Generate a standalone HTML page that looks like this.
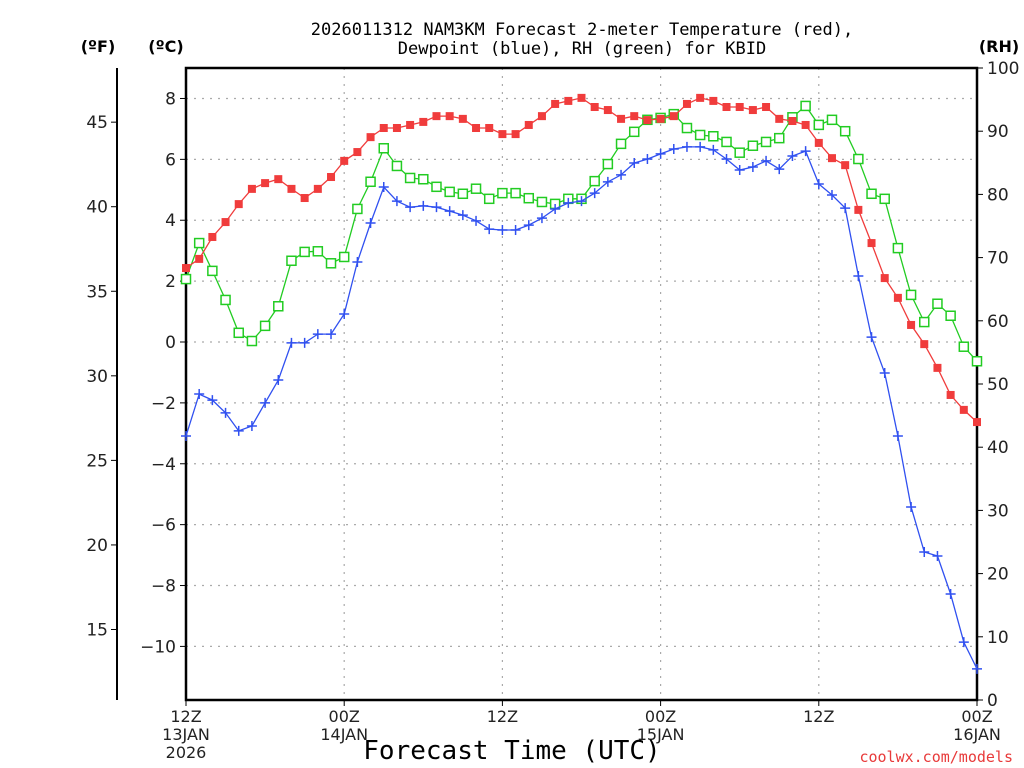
<!DOCTYPE html>
<html><head><meta charset="utf-8"><style>
body{margin:0;background:#fff}
svg{display:block;font-family:"DejaVu Sans","Liberation Sans",sans-serif}
</style></head><body>
<svg id="chart" width="1024" height="768" viewBox="0 0 1024 768" xmlns="http://www.w3.org/2000/svg">
<rect width="1024" height="768" fill="#fff"/>
<text x="582" y="35" font-size="17" text-anchor="middle" font-family="DejaVu Sans Mono, Liberation Mono, monospace">2026011312 NAM3KM Forecast 2-meter Temperature (red),</text>
<text x="582" y="54" font-size="17" text-anchor="middle" font-family="DejaVu Sans Mono, Liberation Mono, monospace">Dewpoint (blue), RH (green) for KBID</text>
<text x="98" y="52" font-size="16" font-weight="bold" text-anchor="middle">(ºF)</text>
<text x="166" y="52" font-size="16" font-weight="bold" text-anchor="middle">(ºC)</text>
<text x="999" y="52" font-size="16" font-weight="bold" text-anchor="middle">(RH)</text>
<g id="grid"></g>
<g id="axes"></g>
<g id="series"></g>
<text x="512" y="759" font-size="26" text-anchor="middle" font-family="DejaVu Sans Mono, Liberation Mono, monospace">Forecast Time (UTC)</text>
<text x="1013" y="762" font-size="15" fill="#e83a3a" text-anchor="end" font-family="DejaVu Sans Mono, Liberation Mono, monospace">coolwx.com/models</text>
</svg>
<script>
const hours = Array.from({length:61},(_,i)=>i);
const tempC = [2.43,2.73,3.45,3.94,4.53,5.03,5.22,5.35,5.03,4.73,5.03,5.42,5.95,6.24,6.73,7.03,7.03,7.13,7.23,7.42,7.42,
7.33,7.03,7.03,6.83,6.83,7.13,7.42,7.82,7.92,8.02,7.72,7.62,7.33,7.42,7.29,7.33,7.42,7.82,8.02,7.92,7.72,
7.72,7.62,7.72,7.33,7.26,7.13,6.54,6.04,5.81,4.34,3.25,2.10,1.45,0.56,-0.07,-0.85,-1.74,-2.23,-2.63];
const dewC = [-3.09,-1.71,-1.91,-2.33,-2.92,-2.76,-2.00,-1.25,-0.03,-0.03,0.26,0.26,0.92,2.63,3.91,5.09,4.63,4.43,4.47,4.43,4.30,
4.17,3.98,3.71,3.68,3.68,3.84,4.07,4.37,4.57,4.63,4.89,5.26,5.49,5.88,6.01,6.18,6.34,6.41,6.41,6.31,6.01,
5.65,5.75,5.95,5.68,6.11,6.27,5.19,4.83,4.40,2.17,0.16,-1.02,-3.09,-5.42,-6.90,-7.03,-8.28,-9.86,-10.74];
const rh = [66.6,72.3,67.9,63.3,58.1,56.8,59.2,62.3,69.5,70.9,71.0,69.1,70.1,77.7,82.0,87.3,84.5,82.6,82.4,81.2,80.4,
80.1,80.9,79.3,80.2,80.2,79.4,78.8,78.5,79.3,79.3,82.1,84.8,88.0,89.9,91.8,92.1,92.7,90.5,89.4,89.2,88.3,
86.6,87.7,88.3,88.9,92.2,94.0,91.0,91.8,90.0,85.6,80.1,79.3,71.5,64.1,59.8,62.7,60.8,55.9,53.6];
const cTicks = [8,6,4,2,0,-2,-4,-6,-8,-10];
const fTicks = [45,40,35,30,25,20,15];
const rhTicks = [100,90,80,70,60,50,40,30,20,10,0];
const xTickHours = [0,12,24,36,48,60];
const xTickLabels = [["12Z","13JAN","2026"],["00Z","14JAN"],["12Z"],["00Z","15JAN"],["12Z"],["00Z","16JAN"]];

const L=186,R=977,T=68,B=700;
const x=h=>L+(R-L)*h/60;
const yC=c=>342-c*30.44;
const yF=f=>yC((f-32)*5/9);
const yRH=r=>B-(B-T)*r/100;
const NS='http://www.w3.org/2000/svg';
function mk(tag,parent,attrs){const e=document.createElementNS(NS,tag);for(const k in attrs)e.setAttribute(k,attrs[k]);parent.appendChild(e);return e;}
const grid=document.getElementById('grid'),axes=document.getElementById('axes'),ser=document.getElementById('series');

cTicks.forEach(c=>{
  const g=mk('line',grid,{x1:L,x2:R,y1:yC(c),y2:yC(c),stroke:'#aaa','stroke-width':1.2,'stroke-dasharray':'2 6'});
  
  
  const t=mk('line',axes,{x1:L-6,x2:L,y1:yC(c),y2:yC(c),stroke:'#000','stroke-width':1});
  
  
  const lb=mk('text',axes,{x:L-10,y:yC(c)+6,'font-size':17,'text-anchor':'end',fill:'#222'});
  lb.textContent=c<0?'\u2212'+Math.abs(c):String(c);
  
  
});
xTickHours.forEach((h,i)=>{
  if(i>0&&i<xTickHours.length-1){
    const g=mk('line',grid,{x1:x(h),x2:x(h),y1:T,y2:B,stroke:'#aaa','stroke-width':1.2,'stroke-dasharray':'2 6'});
    
    
  }
  const t=mk('line',axes,{x1:x(h),x2:x(h),y1:B,y2:B+6,stroke:'#000','stroke-width':1});
  
  
  xTickLabels[i].forEach((s,j)=>{
    const lb=mk('text',axes,{x:x(h),y:B+22+j*18,'font-size':16,'text-anchor':'middle',fill:'#222'});
    lb.textContent=s;
    
    
  });
});
fTicks.forEach(f=>{
  const t=mk('line',axes,{x1:111,x2:117,y1:yF(f),y2:yF(f),stroke:'#000','stroke-width':1});
  
  
  const lb=mk('text',axes,{x:108,y:yF(f)+6,'font-size':17,'text-anchor':'end',fill:'#222'});
  lb.textContent=String(f);
  
  
});
rhTicks.forEach(r=>{
  const t=mk('line',axes,{x1:R,x2:R+6,y1:yRH(r),y2:yRH(r),stroke:'#000','stroke-width':1});
  
  
  const lb=mk('text',axes,{x:R+10,y:yRH(r)+6,'font-size':17,'text-anchor':'start',fill:'#222'});
  lb.textContent=String(r);
  
  
});
const fax=mk('line',axes,{x1:117,x2:117,y1:T,y2:B,stroke:'#000','stroke-width':2});


const box=mk('rect',axes,{x:L,y:T,width:R-L,height:B-T,fill:'none',stroke:'#000','stroke-width':2.5});



function series(vals,yf,color,name,marker){
  const g=mk('g',ser,{});
  
  
  const pts=vals.map((v,i)=>x(hours[i]).toFixed(1)+','+yf(v).toFixed(1)).join(' ');
  const pl=mk('polyline',g,{points:pts,fill:'none',stroke:color,'stroke-width':1.3});
  
  
  vals.forEach((v,i)=>{
    const cx=x(hours[i]),cy=yf(v);let m;
    if(marker==='fill'){m=mk('rect',g,{x:cx-4,y:cy-4,width:8,height:8,fill:color});}
    else if(marker==='open'){m=mk('rect',g,{x:cx-4.5,y:cy-4.5,width:9,height:9,fill:'#fff',stroke:color,'stroke-width':1.5});}
    else{m=mk('path',g,{d:`M${cx-5},${cy}H${cx+5}M${cx},${cy-5}V${cy+5}`,stroke:color,'stroke-width':1.5});}
    
    
  });
}
series(rh,yRH,'#22cc22','rh','open');
series(tempC,yC,'#f03c3c','temperature','fill');
series(dewC,yC,'#3050f0','dewpoint','plus');
</script>
</body></html>
